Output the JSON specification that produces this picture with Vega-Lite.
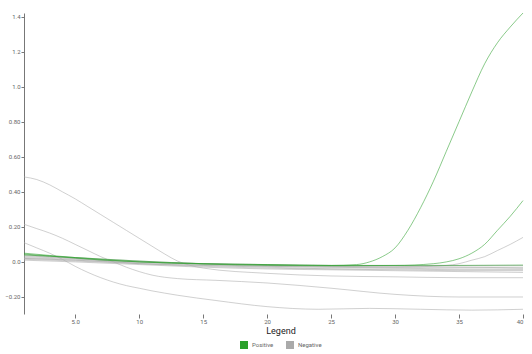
{
  "$schema": "https://vega.github.io/schema/vega-lite/v6.json",
  "autosize": "none",
  "padding": {"left": 24, "top": 13, "right": 9, "bottom": 40},
  "width": 499,
  "height": 301,
  "background": "white",
  "config": {
    "view": {"stroke": null},
    "font": "Roboto",
    "axis": {"grid": false, "labelFontSize": 6, "labelColor": "#666", "tickColor": "#777", "domainColor": "#777", "title": null}
  },
  "data": {"values": [
    {"well":"P1","type":"Positive","cycle":1,"value":0.045},
    {"well":"P1","type":"Positive","cycle":3,"value":0.034},
    {"well":"P1","type":"Positive","cycle":7,"value":0.011},
    {"well":"P1","type":"Positive","cycle":11,"value":-0.002},
    {"well":"P1","type":"Positive","cycle":15,"value":-0.01},
    {"well":"P1","type":"Positive","cycle":20,"value":-0.015},
    {"well":"P1","type":"Positive","cycle":25,"value":-0.02},
    {"well":"P1","type":"Positive","cycle":27,"value":-0.015},
    {"well":"P1","type":"Positive","cycle":28,"value":0.0},
    {"well":"P1","type":"Positive","cycle":29,"value":0.03},
    {"well":"P1","type":"Positive","cycle":30,"value":0.08},
    {"well":"P1","type":"Positive","cycle":31,"value":0.18},
    {"well":"P1","type":"Positive","cycle":32,"value":0.31},
    {"well":"P1","type":"Positive","cycle":33,"value":0.46},
    {"well":"P1","type":"Positive","cycle":34,"value":0.63},
    {"well":"P1","type":"Positive","cycle":35,"value":0.80},
    {"well":"P1","type":"Positive","cycle":36,"value":0.97},
    {"well":"P1","type":"Positive","cycle":37,"value":1.13},
    {"well":"P1","type":"Positive","cycle":38,"value":1.25},
    {"well":"P1","type":"Positive","cycle":39,"value":1.34},
    {"well":"P1","type":"Positive","cycle":40,"value":1.42},

    {"well":"P2","type":"Positive","cycle":1,"value":0.04},
    {"well":"P2","type":"Positive","cycle":5,"value":0.025},
    {"well":"P2","type":"Positive","cycle":10,"value":0.005},
    {"well":"P2","type":"Positive","cycle":15,"value":-0.01},
    {"well":"P2","type":"Positive","cycle":20,"value":-0.015},
    {"well":"P2","type":"Positive","cycle":25,"value":-0.02},
    {"well":"P2","type":"Positive","cycle":30,"value":-0.02},
    {"well":"P2","type":"Positive","cycle":33,"value":-0.01},
    {"well":"P2","type":"Positive","cycle":34,"value":0.0},
    {"well":"P2","type":"Positive","cycle":35,"value":0.018},
    {"well":"P2","type":"Positive","cycle":36,"value":0.05},
    {"well":"P2","type":"Positive","cycle":37,"value":0.10},
    {"well":"P2","type":"Positive","cycle":38,"value":0.18},
    {"well":"P2","type":"Positive","cycle":39,"value":0.26},
    {"well":"P2","type":"Positive","cycle":40,"value":0.35},

    {"well":"P3","type":"Positive","cycle":1,"value":0.05},
    {"well":"P3","type":"Positive","cycle":5,"value":0.025},
    {"well":"P3","type":"Positive","cycle":10,"value":0.0},
    {"well":"P3","type":"Positive","cycle":15,"value":-0.012},
    {"well":"P3","type":"Positive","cycle":20,"value":-0.02},
    {"well":"P3","type":"Positive","cycle":25,"value":-0.022},
    {"well":"P3","type":"Positive","cycle":30,"value":-0.02},
    {"well":"P3","type":"Positive","cycle":35,"value":-0.02},
    {"well":"P3","type":"Positive","cycle":40,"value":-0.018},

    {"well":"N1","type":"Negative","cycle":1,"value":0.02},
    {"well":"N1","type":"Negative","cycle":5,"value":0.01},
    {"well":"N1","type":"Negative","cycle":10,"value":-0.01},
    {"well":"N1","type":"Negative","cycle":15,"value":-0.02},
    {"well":"N1","type":"Negative","cycle":20,"value":-0.025},
    {"well":"N1","type":"Negative","cycle":25,"value":-0.03},
    {"well":"N1","type":"Negative","cycle":30,"value":-0.03},
    {"well":"N1","type":"Negative","cycle":34,"value":-0.02},
    {"well":"N1","type":"Negative","cycle":35,"value":-0.01},
    {"well":"N1","type":"Negative","cycle":36,"value":0.01},
    {"well":"N1","type":"Negative","cycle":37,"value":0.03},
    {"well":"N1","type":"Negative","cycle":38,"value":0.065},
    {"well":"N1","type":"Negative","cycle":39,"value":0.10},
    {"well":"N1","type":"Negative","cycle":40,"value":0.14},

    {"well":"N2","type":"Negative","cycle":1,"value":0.485},
    {"well":"N2","type":"Negative","cycle":2,"value":0.47},
    {"well":"N2","type":"Negative","cycle":3,"value":0.44},
    {"well":"N2","type":"Negative","cycle":4,"value":0.40},
    {"well":"N2","type":"Negative","cycle":5,"value":0.36},
    {"well":"N2","type":"Negative","cycle":6,"value":0.315},
    {"well":"N2","type":"Negative","cycle":7,"value":0.27},
    {"well":"N2","type":"Negative","cycle":8,"value":0.225},
    {"well":"N2","type":"Negative","cycle":9,"value":0.18},
    {"well":"N2","type":"Negative","cycle":10,"value":0.135},
    {"well":"N2","type":"Negative","cycle":11,"value":0.09},
    {"well":"N2","type":"Negative","cycle":12,"value":0.045},
    {"well":"N2","type":"Negative","cycle":13,"value":0.005},
    {"well":"N2","type":"Negative","cycle":14,"value":-0.02},
    {"well":"N2","type":"Negative","cycle":15,"value":-0.035},
    {"well":"N2","type":"Negative","cycle":20,"value":-0.065},
    {"well":"N2","type":"Negative","cycle":25,"value":-0.08},
    {"well":"N2","type":"Negative","cycle":30,"value":-0.085},
    {"well":"N2","type":"Negative","cycle":35,"value":-0.09},
    {"well":"N2","type":"Negative","cycle":40,"value":-0.09},

    {"well":"N3","type":"Negative","cycle":1,"value":0.215},
    {"well":"N3","type":"Negative","cycle":2,"value":0.19},
    {"well":"N3","type":"Negative","cycle":3,"value":0.165},
    {"well":"N3","type":"Negative","cycle":4,"value":0.135},
    {"well":"N3","type":"Negative","cycle":5,"value":0.10},
    {"well":"N3","type":"Negative","cycle":6,"value":0.065},
    {"well":"N3","type":"Negative","cycle":7,"value":0.03},
    {"well":"N3","type":"Negative","cycle":8,"value":0.0},
    {"well":"N3","type":"Negative","cycle":9,"value":-0.03},
    {"well":"N3","type":"Negative","cycle":10,"value":-0.055},
    {"well":"N3","type":"Negative","cycle":11,"value":-0.075},
    {"well":"N3","type":"Negative","cycle":13,"value":-0.095},
    {"well":"N3","type":"Negative","cycle":16,"value":-0.105},
    {"well":"N3","type":"Negative","cycle":20,"value":-0.12},
    {"well":"N3","type":"Negative","cycle":25,"value":-0.15},
    {"well":"N3","type":"Negative","cycle":30,"value":-0.185},
    {"well":"N3","type":"Negative","cycle":35,"value":-0.20},
    {"well":"N3","type":"Negative","cycle":40,"value":-0.20},

    {"well":"N4","type":"Negative","cycle":1,"value":0.11},
    {"well":"N4","type":"Negative","cycle":2,"value":0.08},
    {"well":"N4","type":"Negative","cycle":3,"value":0.05},
    {"well":"N4","type":"Negative","cycle":4,"value":0.015},
    {"well":"N4","type":"Negative","cycle":5,"value":-0.025},
    {"well":"N4","type":"Negative","cycle":6,"value":-0.06},
    {"well":"N4","type":"Negative","cycle":7,"value":-0.09},
    {"well":"N4","type":"Negative","cycle":8,"value":-0.115},
    {"well":"N4","type":"Negative","cycle":9,"value":-0.135},
    {"well":"N4","type":"Negative","cycle":10,"value":-0.15},
    {"well":"N4","type":"Negative","cycle":11,"value":-0.165},
    {"well":"N4","type":"Negative","cycle":12,"value":-0.178},
    {"well":"N4","type":"Negative","cycle":13,"value":-0.19},
    {"well":"N4","type":"Negative","cycle":16,"value":-0.22},
    {"well":"N4","type":"Negative","cycle":20,"value":-0.255},
    {"well":"N4","type":"Negative","cycle":24,"value":-0.27},
    {"well":"N4","type":"Negative","cycle":28,"value":-0.265},
    {"well":"N4","type":"Negative","cycle":32,"value":-0.27},
    {"well":"N4","type":"Negative","cycle":36,"value":-0.275},
    {"well":"N4","type":"Negative","cycle":40,"value":-0.27},

    {"well":"N5","type":"Negative","cycle":1,"value":0.03},
    {"well":"N5","type":"Negative","cycle":5,"value":0.02},
    {"well":"N5","type":"Negative","cycle":10,"value":0.0},
    {"well":"N5","type":"Negative","cycle":15,"value":-0.01},
    {"well":"N5","type":"Negative","cycle":20,"value":-0.02},
    {"well":"N5","type":"Negative","cycle":25,"value":-0.025},
    {"well":"N5","type":"Negative","cycle":30,"value":-0.03},
    {"well":"N5","type":"Negative","cycle":35,"value":-0.03},
    {"well":"N5","type":"Negative","cycle":40,"value":-0.035},

    {"well":"N6","type":"Negative","cycle":1,"value":0.02},
    {"well":"N6","type":"Negative","cycle":5,"value":0.01},
    {"well":"N6","type":"Negative","cycle":10,"value":-0.005},
    {"well":"N6","type":"Negative","cycle":15,"value":-0.015},
    {"well":"N6","type":"Negative","cycle":20,"value":-0.025},
    {"well":"N6","type":"Negative","cycle":25,"value":-0.03},
    {"well":"N6","type":"Negative","cycle":30,"value":-0.035},
    {"well":"N6","type":"Negative","cycle":35,"value":-0.04},
    {"well":"N6","type":"Negative","cycle":40,"value":-0.04},

    {"well":"N7","type":"Negative","cycle":1,"value":0.04},
    {"well":"N7","type":"Negative","cycle":5,"value":0.025},
    {"well":"N7","type":"Negative","cycle":10,"value":0.005},
    {"well":"N7","type":"Negative","cycle":15,"value":-0.01},
    {"well":"N7","type":"Negative","cycle":20,"value":-0.02},
    {"well":"N7","type":"Negative","cycle":25,"value":-0.025},
    {"well":"N7","type":"Negative","cycle":30,"value":-0.025},
    {"well":"N7","type":"Negative","cycle":35,"value":-0.03},
    {"well":"N7","type":"Negative","cycle":40,"value":-0.03},

    {"well":"N8","type":"Negative","cycle":1,"value":0.015},
    {"well":"N8","type":"Negative","cycle":5,"value":0.005},
    {"well":"N8","type":"Negative","cycle":10,"value":-0.01},
    {"well":"N8","type":"Negative","cycle":15,"value":-0.02},
    {"well":"N8","type":"Negative","cycle":20,"value":-0.03},
    {"well":"N8","type":"Negative","cycle":25,"value":-0.04},
    {"well":"N8","type":"Negative","cycle":30,"value":-0.045},
    {"well":"N8","type":"Negative","cycle":35,"value":-0.05},
    {"well":"N8","type":"Negative","cycle":40,"value":-0.05},

    {"well":"N9","type":"Negative","cycle":1,"value":0.01},
    {"well":"N9","type":"Negative","cycle":5,"value":0.0},
    {"well":"N9","type":"Negative","cycle":10,"value":-0.015},
    {"well":"N9","type":"Negative","cycle":15,"value":-0.03},
    {"well":"N9","type":"Negative","cycle":20,"value":-0.04},
    {"well":"N9","type":"Negative","cycle":25,"value":-0.045},
    {"well":"N9","type":"Negative","cycle":30,"value":-0.05},
    {"well":"N9","type":"Negative","cycle":35,"value":-0.055},
    {"well":"N9","type":"Negative","cycle":40,"value":-0.06},

    {"well":"N10","type":"Negative","cycle":1,"value":0.025},
    {"well":"N10","type":"Negative","cycle":5,"value":0.015},
    {"well":"N10","type":"Negative","cycle":10,"value":0.0},
    {"well":"N10","type":"Negative","cycle":15,"value":-0.01},
    {"well":"N10","type":"Negative","cycle":20,"value":-0.015},
    {"well":"N10","type":"Negative","cycle":25,"value":-0.02},
    {"well":"N10","type":"Negative","cycle":30,"value":-0.02},
    {"well":"N10","type":"Negative","cycle":35,"value":-0.02},
    {"well":"N10","type":"Negative","cycle":40,"value":-0.02},

    {"well":"N11","type":"Negative","cycle":1,"value":0.035},
    {"well":"N11","type":"Negative","cycle":5,"value":0.02},
    {"well":"N11","type":"Negative","cycle":10,"value":-0.01},
    {"well":"N11","type":"Negative","cycle":15,"value":-0.025},
    {"well":"N11","type":"Negative","cycle":20,"value":-0.035},
    {"well":"N11","type":"Negative","cycle":25,"value":-0.04},
    {"well":"N11","type":"Negative","cycle":30,"value":-0.04},
    {"well":"N11","type":"Negative","cycle":35,"value":-0.045},
    {"well":"N11","type":"Negative","cycle":40,"value":-0.045}
  ]},
  "encoding": {
    "x": {"field": "cycle", "type": "quantitative",
      "scale": {"domain": [1, 40], "nice": false, "zero": false},
      "axis": {"domain": false, "values": [5,10,15,20,25,30,35,40], "tickSize": 4, "labelPadding": 0,
        "labelExpr": "datum.value == 5 ? '5.0' : format(datum.value, 'd')"}},
    "y": {"field": "value", "type": "quantitative",
      "scale": {"domain": [-0.297, 1.42], "nice": false, "zero": false},
      "axis": {"values": [-0.2,0,0.2,0.4,0.6,0.8,1.0,1.2,1.4], "tickSize": 3, "labelPadding": 1,
        "labelExpr": "datum.value == 0 ? '0.0' : (abs(datum.value) >= 1 ? format(datum.value, '.1f') : format(datum.value, '.2f'))"}},
    "color": {"field": "type", "type": "nominal",
      "scale": {"domain": ["Positive", "Negative"], "range": ["#2ca02c", "#aaaaaa"]},
      "legend": {"title": "Legend", "orient": "none", "legendX": 216, "legendY": 314, "direction": "horizontal", "titleAnchor": "middle",
        "titleFontSize": 9, "titleFontWeight": "normal", "titleColor": "#222", "labelFontSize": 6, "labelColor": "#666",
        "symbolType": "square", "symbolSize": 64, "symbolOpacity": 1, "symbolStrokeWidth": 0, "labelOffset": 4, "columnPadding": 12, "titlePadding": 5,
        "encode": {"symbols": {"update": {"fill": {"scale": "color", "field": "value"}, "strokeWidth": {"value": 0}, "opacity": {"value": 1}}}}}},
    "detail": {"field": "well", "type": "nominal"}
  },
  "layer": [
    {"transform": [{"filter": "datum.type == 'Negative'"}],
     "mark": {"type": "line", "interpolate": "monotone", "strokeWidth": 0.8, "opacity": 0.7}},
    {"transform": [{"filter": "datum.type == 'Positive'"}],
     "mark": {"type": "line", "interpolate": "monotone", "strokeWidth": 0.8, "opacity": 0.7}}
  ]
}
